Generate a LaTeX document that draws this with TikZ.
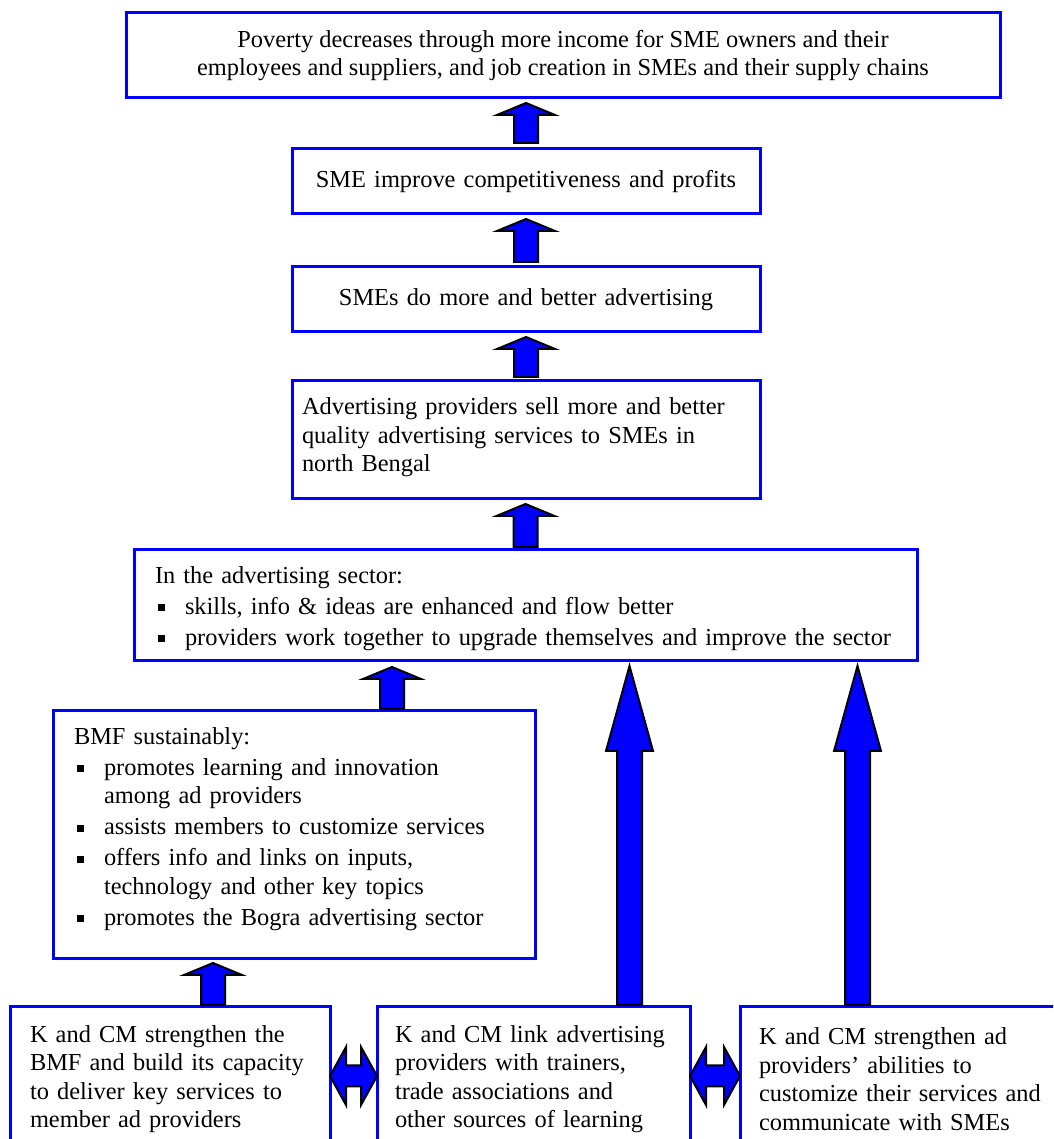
\documentclass[tikz,border=0pt]{standalone}
\usepackage{fontspec}
\setmainfont{Liberation Serif}
\usetikzlibrary{positioning,calc}
\tikzset{font=\fontsize{24.4}{28.5}\selectfont}

% bullet item inside a box
\newcommand{\bitem}[1]{\par\vspace{2.5pt}\noindent\hangindent=30pt\hangafter=1%
	\makebox[30pt][l]{\hspace{3pt}\raisebox{3pt}{\rule{7pt}{7pt}}}#1}

% block arrow pointing up: from, to, shaft half width, head half width, head length
\newcommand{\fatup}[5]{%
	\draw[fatarrow] let \p1=(#1), \p2=(#2) in
		(\x1-#3,\y1) -- (\x1-#3,\y2-#5) -- (\x1-#4,\y2-#5) -- (\x1,\y2)
		-- (\x1+#4,\y2-#5) -- (\x1+#3,\y2-#5) -- (\x1+#3,\y1) -- cycle;}

% block arrow with two heads, left to right
\newcommand{\fatboth}[5]{%
	\draw[fatarrow] let \p1=(#1), \p2=(#2) in
		(\x1,\y1) -- (\x1+#5,\y1+#4) -- (\x1+#5,\y1+#3) -- (\x2-#5,\y1+#3)
		-- (\x2-#5,\y1+#4) -- (\x2,\y1) -- (\x2-#5,\y1-#4) -- (\x2-#5,\y1-#3)
		-- (\x1+#5,\y1-#3) -- (\x1+#5,\y1-#4) -- cycle;}

\begin{document}
\begin{tikzpicture}[x=1pt, y=1pt]
	\fill[white] (0,0) rectangle (1053,1139);
	\useasboundingbox (0,0) rectangle (1053,1139);
	\clip (0,0) rectangle (1053,1139);

	\tikzstyle{box}=[draw=blue, line width=3pt, fill=white, outer sep=0pt, inner ysep=0pt, anchor=north west]
	\tikzstyle{fatarrow}=[draw=black, line width=2pt, fill=blue]

	% results chain
	\node[box, minimum width=874, minimum height=85, inner xsep=10pt] (poverty) at (126, 1126)
		{\parbox{780pt}{\centering Poverty decreases through more income for SME owners and their\\employees and suppliers, and job creation in SMEs and their supply chains}\hspace{74pt}};
	\node[box, minimum width=468, minimum height=65, text width=448, inner xsep=10pt, align=center] (compet) at (292, 990)
		{SME improve competitiveness and profits};
	\node[box, minimum width=468, minimum height=65, text width=448, inner xsep=10pt, align=center] (advert) at (292, 872)
		{SMEs do more and better advertising};
	\node[box, minimum width=468, minimum height=118, text width=448, inner xsep=10pt, align=left] (provsell) at (292, 758)
		{Advertising providers sell more and better\\quality advertising services to SMEs in\\north Bengal\rule[-10pt]{0pt}{10pt}};
	\node[box, minimum width=783, minimum height=111, text width=741, inner xsep=21pt, align=left] (sector) at (134, 589)
		{\rule{0pt}{23pt}In the advertising sector:
		\bitem{skills, info \& ideas are enhanced and flow better}
		\bitem{providers work together to upgrade themselves and improve the sector}};
	\node[box, minimum width=482, minimum height=248, text width=440, inner xsep=21pt, align=left] (bmf) at (53, 428)
		{BMF sustainably:
		\bitem{promotes learning and innovation\newline among ad providers}
		\bitem{assists members to customize services}
		\bitem{offers info and links on inputs,\newline technology and other key topics}
		\bitem{promotes the Bogra advertising sector\rule[-17pt]{0pt}{17pt}}};

	% interventions
	\node[box, minimum width=320, minimum height=138, text width=284, inner xsep=18pt, align=left] (kcmbmf) at (10, 132)
		{\hspace*{2pt}\rule{0pt}{23pt}K and CM strengthen the\\\hspace*{2pt}BMF and build its capacity\\\hspace*{2pt}to deliver key services to\\\hspace*{2pt}member ad providers};
	\node[box, minimum width=313, minimum height=138, text width=277, inner xsep=18pt, align=left] (kcmlink) at (377, 132)
		{\rule{0pt}{23pt}K and CM link advertising\\providers with trainers,\\trade associations and\\other sources of learning};
	\node[box, minimum width=340, minimum height=138, text width=302, inner xsep=19pt, align=left] (kcmabil) at (740, 132)
		{\rule{0pt}{23pt}K and CM strengthen ad\\providers’ abilities to\\customize their services and\\communicate with SMEs};

	% arrows
	\fatup{[yshift=6pt]compet.north}{[yshift=-5pt]poverty.south}{12pt}{29pt}{12pt}
	\fatup{[yshift=5pt]advert.north}{[yshift=-5pt]compet.south}{12pt}{29pt}{12pt}
	\fatup{[yshift=4pt]provsell.north}{[yshift=-5pt]advert.south}{12pt}{29pt}{12pt}
	\fatup{[yshift=3pt]sector.north}{[yshift=-5pt]provsell.south}{12pt}{29pt}{12pt}
	\fatup{[xshift=98pt, yshift=2pt]bmf.north}{[yshift=-6pt]sector.south}{12pt}{29pt}{12pt}
	\fatup{[xshift=43pt, yshift=2pt]kcmbmf.north}{[yshift=-4pt]bmf.south}{12pt}{29pt}{12pt}
	\fatup{[xshift=96pt, yshift=2pt]kcmlink.north}{[yshift=-5pt]sector.south}{12.5pt}{23.5pt}{85pt}
	\fatup{[xshift=-52.5pt, yshift=2pt]kcmabil.north}{[yshift=-5pt]sector.south}{12.5pt}{23.5pt}{85pt}

	\fatboth{kcmbmf.east}{kcmlink.west}{10.5pt}{29pt}{16pt}
	\fatboth{kcmlink.east}{kcmabil.west}{10.5pt}{29pt}{16pt}
\end{tikzpicture}
\end{document}
